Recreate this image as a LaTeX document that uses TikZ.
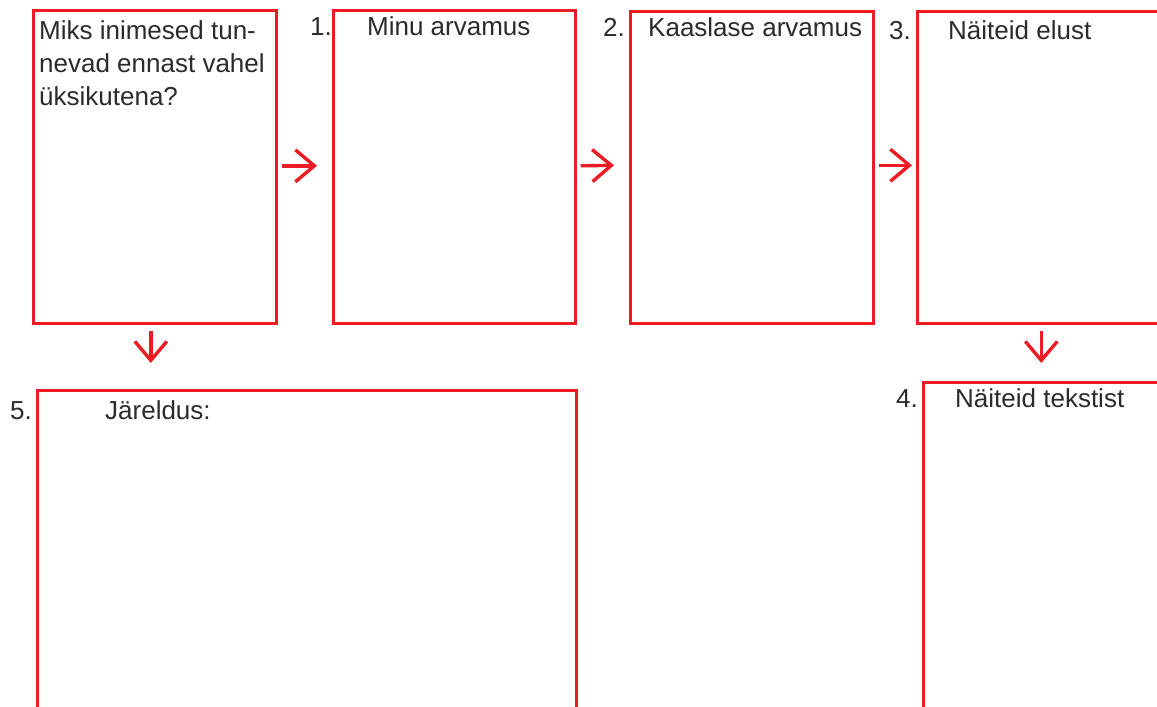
\documentclass[tikz,border=0pt]{standalone}
\usepackage{fontspec}
\setmainfont{Liberation Sans}
\usetikzlibrary{arrows.meta,calc}
\definecolor{boxred}{HTML}{ED1C24}
\definecolor{ink}{HTML}{2B2B2B}
\tikzset{
  frame/.style={draw=boxred, line width=2.6pt, rectangle, inner sep=0pt, anchor=north west},
  lbl/.style={anchor=base west, inner sep=0pt, text=ink, font=\fontsize{26}{33}\selectfont},
  arr/.style={draw=boxred, line width=3.4pt, -{Straight Barb[length=19pt,width=32pt,line width=3.4pt]}}
}
\begin{document}
\begin{tikzpicture}[x=1pt,y=-1pt]
\clip (0,0) rectangle (1157,707);
\fill[white] (0,0) rectangle (1157,707);
% boxes
\node[frame, minimum width=243pt, minimum height=313pt] (boxA) at (32,9) {};
\node[frame, minimum width=242pt, minimum height=313pt] (box1) at (332,9) {};
\node[frame, minimum width=243pt, minimum height=312pt] (box2) at (629,10) {};
\node[frame, minimum width=244pt, minimum height=312pt] (box3) at (916,10) {};
\node[frame, minimum width=244pt, minimum height=420pt] (box4) at (922,381) {};
\node[frame, minimum width=539pt, minimum height=420pt] (box5) at (36,389) {};
% texts
\node[lbl, align=left] (q) at (39,105) {Miks inimesed tun-\\nevad ennast vahel\\üksikutena?};
\node[lbl] (n1) at (310,35) {1.};
\node[lbl] (t1) at (367,35) {Minu arvamus};
\node[lbl] (n2) at (603,36) {2.};
\node[lbl] (t2) at (648,36) {Kaaslase arvamus};
\node[lbl] (n3) at (889,39) {3.};
\node[lbl] (t3) at (948,39) {Näiteid elust};
\node[lbl] (n4) at (896,407) {4.};
\node[lbl] (t4) at (955,407) {Näiteid tekstist};
\node[lbl] (n5) at (10,419) {5.};
\node[lbl] (t5) at (105,419) {Järeldus:};
% arrows
\draw[arr] ($(boxA.east)+(4,-1)$) -- ($(box1.west)+(-15,-1)$);
\draw[arr] ($(box1.east)+(4,-1)$) -- ($(box2.west)+(-15,-2)$);
\draw[arr] ($(box2.east)+(4,-2)$) -- ($(box3.west)+(-4,-2)$);
\draw[arr] ($(boxA.south)+(-4,6)$) -- ($(boxA.south |- box5.north)+(-4,-26)$);
\draw[arr] ($(box3.south)+(2,6)$) -- ($(box3.south |- box4.north)+(2,-18)$);
\end{tikzpicture}
\end{document}
